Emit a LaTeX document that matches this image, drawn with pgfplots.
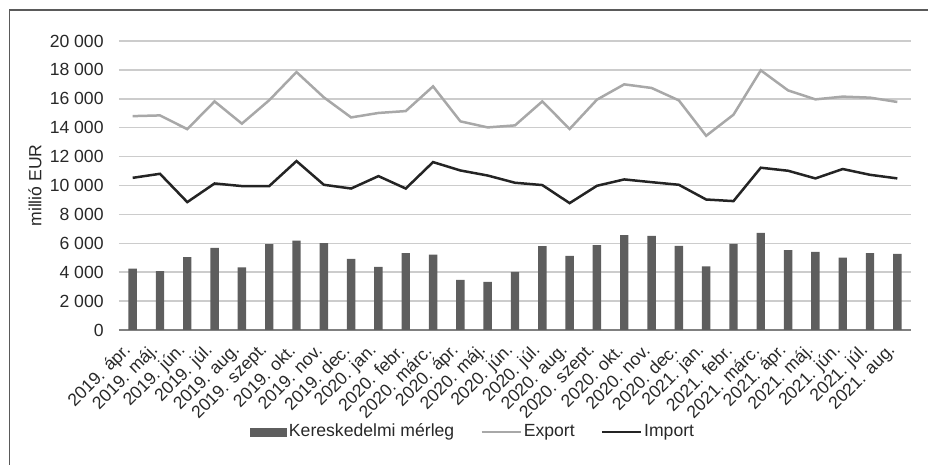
\documentclass[border=0pt]{standalone}
\usepackage{fontspec}
\setmainfont{Liberation Sans}
\usepackage{pgfplots}
\usepackage{pgfplotstable}
\pgfplotsset{compat=1.18}
\definecolor{barcol}{RGB}{94,94,94}
\definecolor{expcol}{RGB}{168,168,168}
\definecolor{impcol}{RGB}{36,36,36}
\definecolor{gridcol}{RGB}{204,204,204}
\definecolor{framecol}{RGB}{90,90,90}
\definecolor{txtcol}{RGB}{40,40,40}
\newcommand\f{\fontsize{8.8pt}{10.5pt}\selectfont}
\pgfplotstableread{
x bal exp imp
0 4250 14800 10530
1 4070 14850 10810
2 5040 13900 8850
3 5680 15820 10140
4 4340 14280 9960
5 5940 15900 9960
6 6190 17850 11690
7 6010 16100 10050
8 4920 14710 9790
9 4370 15020 10650
10 5320 15150 9790
11 5220 16860 11620
12 3470 14440 11040
13 3330 14020 10690
14 4020 14160 10190
15 5800 15820 10030
16 5130 13910 8780
17 5870 15940 9980
18 6560 17000 10420
19 6510 16750 10230
20 5820 15890 10050
21 4410 13440 9030
22 5960 14900 8920
23 6720 17970 11230
24 5520 16580 11020
25 5400 15960 10490
26 5010 16150 11140
27 5320 16080 10740
28 5270 15780 10490
}\data
\begin{document}
\begin{tikzpicture}
\path[use as bounding box] (0pt,0pt) rectangle (464pt,232.5pt);
\draw[framecol, line width=0.6pt] (4.65pt,0pt) -- (4.65pt,227.5pt) -- (464pt,227.5pt);
\begin{axis}[
  at={(59.5pt,67.5pt)}, anchor=south west,
  scale only axis, width=396pt, height=144.5pt,
  xmin=-0.5, xmax=28.5, ymin=0, ymax=20000,
  ytick={0,2000,...,20000},
  xtick={0,...,28},
  xticklabels={{2019. ápr.},{2019. máj.},{2019. jún.},{2019. júl.},{2019. aug.},{2019. szept.},{2019. okt.},{2019. nov.},{2019. dec.},{2020. jan.},{2020. febr.},{2020. márc.},{2020. ápr.},{2020. máj.},{2020. jún.},{2020. júl.},{2020. aug.},{2020. szept.},{2020. okt.},{2020. nov.},{2020. dec.},{2021. jan.},{2021. febr.},{2021. márc.},{2021. ápr.},{2021. máj.},{2021. jún.},{2021. júl.},{2021. aug.}},
  axis x line*=bottom, axis y line*=left,
  x axis line style={draw=gray, line width=0.7pt},
  y axis line style={draw=none},
  major tick length=0pt,
  ymajorgrids, grid style={gridcol, line width=0.75pt},
  /pgf/number format/assume math mode=true,
  /pgf/number format/1000 sep={\ },
  scaled y ticks=false,
  tick label style={font=\f, text=txtcol},
  yticklabel style={anchor=east, inner xsep=0pt, xshift=-7.5pt},
  xticklabel style={xshift=-2.2pt, yshift=-8.8pt, rotate=45, anchor=east, inner sep=0pt},
  ylabel={millió EUR},
  ylabel style={font=\f, text=txtcol, at={(axis description cs:-0.106,0.5)}, anchor=center},
  legend columns=3,
  legend style={draw=none, fill=none, font=\f, text=txtcol,
    at={(axis description cs:0.447,-0.353)}, anchor=center,
    nodes={inner xsep=1pt, inner ysep=1pt},
    /tikz/every even column/.append style={column sep=12pt}},
]
\addplot[ybar, bar width=4.2pt, fill=barcol, draw=none,
  legend image code/.code={\fill[barcol] (0pt,-2.25pt) rectangle (18.5pt,2.25pt);}]
  table[x=x, y=bal] {\data};
\addlegendentry{Kereskedelmi mérleg}
\addplot[expcol, line width=1.25pt, mark=none,
  legend image code/.code={\draw[expcol, line width=1.25pt] (0pt,0pt) -- (19.5pt,0pt);}]
  table[x=x, y=exp] {\data};
\addlegendentry{Export}
\addplot[impcol, line width=1.25pt, mark=none,
  legend image code/.code={\draw[impcol, line width=1.25pt] (0pt,0pt) -- (19.5pt,0pt);}]
  table[x=x, y=imp] {\data};
\addlegendentry{Import}
\end{axis}
\end{tikzpicture}
\end{document}
